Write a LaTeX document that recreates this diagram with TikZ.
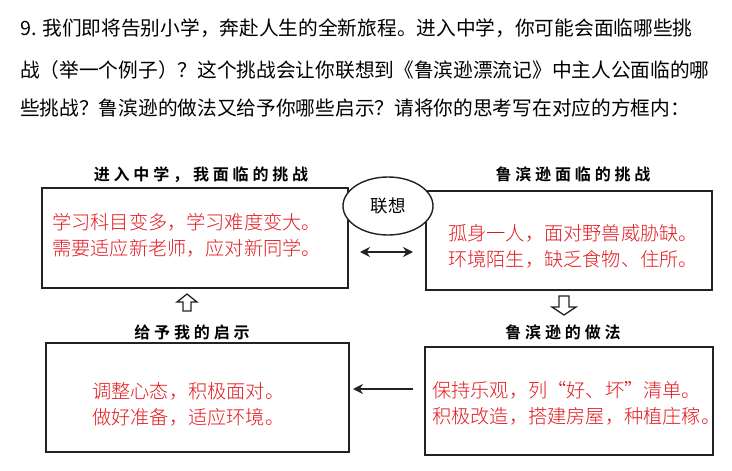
\documentclass[tikz,border=0pt]{standalone}
\usepackage{fontspec}
\usepackage{tikz}
\usetikzlibrary{arrows.meta,shapes.geometric}
\newfontfamily\cjk{Noto Sans CJK SC}
\newfontfamily\cjkbold{Noto Sans CJK SC Bold}[LetterSpace=24]
\newfontfamily\cjklight{Noto Sans CJK SC Light}
\definecolor{answer}{RGB}{226,24,30}
\definecolor{frame}{RGB}{34,34,34}

\tikzset{
  box/.style = {draw = frame, line width = 1.6pt, inner sep = 0pt},
  title/.style = {font = \cjkbold\fontsize{16}{18}\selectfont, inner sep = 0pt},
  answertext/.style = {color = answer, font = \cjklight\fontsize{19.2}{26}\selectfont, align = left, anchor = west, inner sep = 0pt},
  question/.style = {font = \cjk\fontsize{19.7}{22}\selectfont, anchor = west, inner sep = 0pt},
  conn/.style = {line width = 1.4pt, color = frame},
  hollow/.style = {line width = 1.3pt, color = frame, fill = white, line join = miter}
}

\begin{document}
\begin{tikzpicture}[x = 1pt, y = -1pt]
\useasboundingbox (0, 0) rectangle (732, 471);
% question
\node (q1) [question] at (20, 28) {9. 我们即将告别小学，奔赴人生的全新旅程。进入中学，你可能会面临哪些挑};
\node (q2) [question] at (20, 70) {战（举一个例子）？这个挑战会让你联想到《鲁滨逊漂流记》中主人公面临的哪};
\node (q3) [question] at (20, 108) {些挑战？鲁滨逊的做法又给予你哪些启示？请将你的思考写在对应的方框内：};

% boxes
\node (tlbox) [box, minimum width = 306pt, minimum height = 100pt] at (195, 238) {};
\node (trbox) [box, minimum width = 286pt, minimum height = 99pt] at (569, 240.5) {};
\node (blbox) [box, minimum width = 303pt, minimum height = 109pt] at (197.5, 397.5) {};
\node (brbox) [box, minimum width = 288pt, minimum height = 108pt] at (569, 401) {};

% titles
\node (tltitle) [title] at (201, 175) {进入中学，我面临的挑战};
\node (trtitle) [title] at (573, 174) {鲁滨逊面临的挑战};
\node (bltitle) [title] at (192, 332) {给予我的启示};
\node (brtitle) [title] at (563, 332) {鲁滨逊的做法};

% answers
\node (tltext) [answertext] at (52, 235) {学习科目变多，学习难度变大。\\需要适应新老师，应对新同学。};
\node (trtext) [answertext] at (448, 246.5) {孤身一人，面对野兽威胁缺。\\环境陌生，缺乏食物、住所。};
\node (bltext) [answertext] at (92, 404.5) {调整心态，积极面对。\\做好准备，适应环境。};
\node (brtext) [answertext] at (432, 403.5) {保持乐观，列“好、坏”清单。\\积极改造，搭建房屋，种植庄稼。};

% link
\node (link) [ellipse, draw = frame, line width = 1.4pt, fill = white, minimum width = 90pt, minimum height = 58pt, font = \cjk\fontsize{17.5}{20}\selectfont] at (388, 206) {联想};

% arrows
\coordinate (la) at (360, 252);
\coordinate (lb) at (413, 252);
\draw [conn, {Stealth[length = 10pt, width = 10pt]}-{Stealth[length = 10pt, width = 10pt]}] (la) -- (lb);
\coordinate (ba) at (413, 389);
\coordinate (bb) at (353, 389);
\draw [conn, -{Stealth[length = 10pt, width = 10pt]}] (ba) -- (bb);
\coordinate (uptip) at (187, 294);
\draw [hollow] (uptip) -- ++(10, 8) -- ++(-6, 0) -- ++(0, 9) -- ++(-8, 0) -- ++(0, -9) -- ++(-6, 0) -- cycle;
\coordinate (downtip) at (564, 315);
\draw [hollow] (downtip) -- ++(12, -8) -- ++(-7, 0) -- ++(0, -11) -- ++(-10, 0) -- ++(0, 11) -- ++(-7, 0) -- cycle;
%\draw [dashed] (0, 0) grid (732, 471);
\end{tikzpicture}
\end{document}
